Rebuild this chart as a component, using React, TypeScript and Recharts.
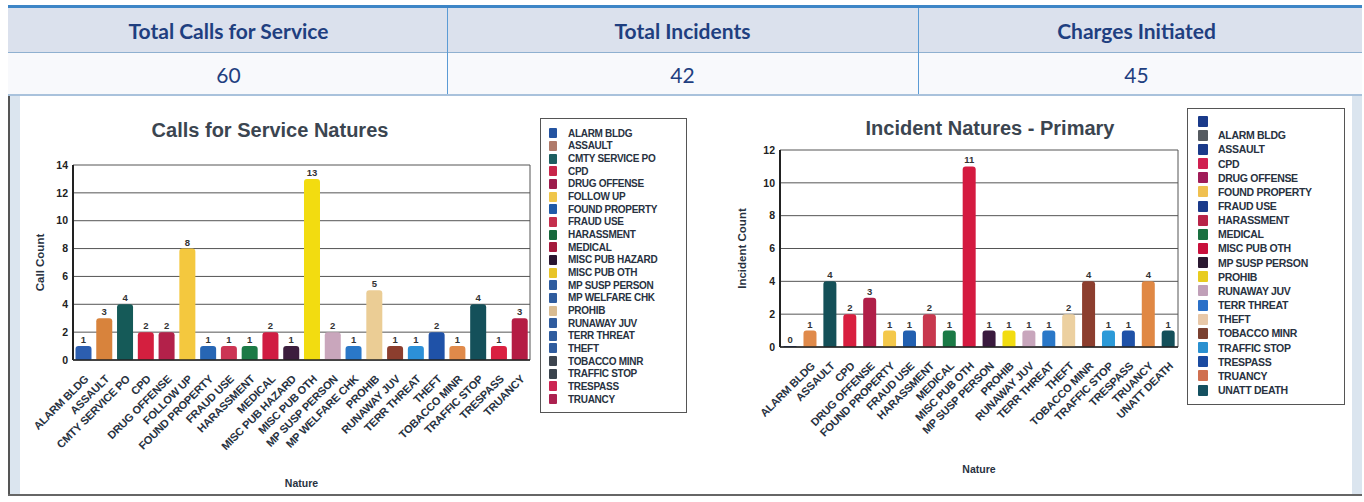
import React from "react";
import { BarChart, Bar, XAxis, YAxis, CartesianGrid, Cell, LabelList } from "recharts";

// header figures
const summaryTitles = ["Total Calls for Service", "Total Incidents", "Charges Initiated"];
const summaryValues = [60, 42, 45];

// Calls for Service Natures
const callNatures = [
  "ALARM BLDG", "ASSAULT", "CMTY SERVICE PO", "CPD", "DRUG OFFENSE", "FOLLOW UP",
  "FOUND PROPERTY", "FRAUD USE", "HARASSMENT", "MEDICAL", "MISC PUB HAZARD", "MISC PUB OTH",
  "MP SUSP PERSON", "MP WELFARE CHK", "PROHIB", "RUNAWAY JUV", "TERR THREAT", "THEFT",
  "TOBACCO MINR", "TRAFFIC STOP", "TRESPASS", "TRUANCY",
];
const callCounts = [1, 3, 4, 2, 2, 8, 1, 1, 1, 2, 1, 13, 2, 1, 5, 1, 1, 2, 1, 4, 1, 3];
const callBarColors = [
  "#2c5eb0", "#d8833c", "#155a58", "#d41f3f", "#b3214a", "#f4c83e",
  "#2766b4", "#cc3454", "#1b7a46", "#d01c42", "#3c1e3e", "#f2dc10",
  "#c9a6bc", "#2a78c8", "#ebcd95", "#8c3e2e", "#2c90d8", "#1f52a8",
  "#e08a4a", "#14505a", "#da2040", "#b41c44",
];
const callLegendColors = [
  "#2453a0", "#b07a6a", "#1d5e60", "#c8264a", "#9c1c4c", "#f0c64a",
  "#1f5aa8", "#c42e4c", "#17683c", "#a41a3c", "#2a1630", "#e8c428",
  "#2f5c9e", "#2f5c9e", "#d9bc92", "#2f5c9e", "#2f5c9e", "#2f5c9e",
  "#3d454f", "#3a434d", "#cc2452", "#ac2250",
];
const callTicks = [0, 2, 4, 6, 8, 10, 12, 14];

// Incident Natures - Primary
const incidentNatures = [
  "", "ALARM BLDG", "ASSAULT", "CPD", "DRUG OFFENSE", "FOUND PROPERTY", "FRAUD USE",
  "HARASSMENT", "MEDICAL", "MISC PUB OTH", "MP SUSP PERSON", "PROHIB", "RUNAWAY JUV",
  "TERR THREAT", "THEFT", "TOBACCO MINR", "TRAFFIC STOP", "TRESPASS", "TRUANCY", "UNATT DEATH",
];
const incidentCounts = [0, 1, 4, 2, 3, 1, 1, 2, 1, 11, 1, 1, 1, 1, 2, 4, 1, 1, 4, 1];
const incidentBarColors = [
  "#1f3f88", "#e08a4a", "#145058", "#d81f3f", "#b01f48", "#f4c84a", "#2260b0",
  "#c8384e", "#1b7a46", "#d41a40", "#3a1a3e", "#f2dc10", "#c8a6bc",
  "#2a78c8", "#ecd0a0", "#8c3e2e", "#2c9ad8", "#1f52a8", "#e08844", "#14505a",
];
const incidentLegendColors = [
  "#1a3a8a", "#555a60", "#1a3a8a", "#d02050", "#a01c58", "#f0c050", "#1a3a8a",
  "#b82448", "#1a7040", "#c8103c", "#2a1830", "#e8cc20", "#c0a0b8",
  "#2a70c8", "#e8c8a8", "#7a4030", "#2a90d0", "#1a4aa0", "#d07050", "#145060",
];
const incidentTicks = [0, 2, 4, 6, 8, 10, 12];

const FONT = "'Liberation Sans', Arial, sans-serif";
const TEXT = "#28323f";

const XTick = (props: any) => {
  const { x, y, payload } = props;
  return (
    <g transform={`translate(${x + 3},${y + 9}) rotate(-45)`}>
      <text x={0} y={0} dy="0.35em" textAnchor="end" fontSize={11} fontWeight="bold"
        fill={TEXT} fontFamily={FONT} letterSpacing={-0.2}>
        {payload.value}
      </text>
    </g>
  );
};

const edgeLines = ({ offset }: any) => [offset.left, offset.left + offset.width];

function NatureChart(props: {
  names: string[];
  counts: number[];
  colors: string[];
  ticks: number[];
  width: number;
  height: number;
  margin: any;
  yWidth: number;
  xHeight: number;
  yLabel: string;
  yLabelOffset: number;
  xLabelOffset: number;
  gap: string;
}) {
  const data = props.names.map((name, i) => ({ name, value: props.counts[i] }));
  const max = props.ticks[props.ticks.length - 1];
  return (
    <BarChart width={props.width} height={props.height} data={data} margin={props.margin}
      barCategoryGap={props.gap}>
      <CartesianGrid stroke="#555" verticalCoordinatesGenerator={edgeLines} />
      <XAxis dataKey="name" interval={0} tick={<XTick />} height={props.xHeight}
        axisLine={{ stroke: "#222", strokeWidth: 1.5 }} tickLine={false}
        label={{ value: "Nature", position: "insideBottom", offset: props.xLabelOffset,
          fontSize: 10.5, fontWeight: "bold", fill: TEXT, fontFamily: FONT }} />
      <YAxis domain={[0, max]} ticks={props.ticks} width={props.yWidth}
        axisLine={{ stroke: "#222", strokeWidth: 2 }} tickLine={false} tickSize={4} tickMargin={1}
        tick={{ fontSize: 10.5, fontWeight: "bold", fill: "#222", fontFamily: FONT }}
        label={{ value: props.yLabel, angle: -90, position: "insideLeft", offset: props.yLabelOffset,
          style: { textAnchor: "middle" }, fontSize: 11.5, fontWeight: "bold", fill: TEXT, fontFamily: FONT }} />
      <Bar dataKey="value" isAnimationActive={false} radius={[3, 3, 1, 1]} minPointSize={1}>
        {data.map((d, i) => (
          <Cell key={i} fill={props.colors[i]} />
        ))}
        <LabelList dataKey="value" position="top" offset={3} fontSize={9.5} fontWeight="bold"
          fill="#333" fontFamily={FONT} />
      </Bar>
    </BarChart>
  );
}

function LegendBox(props: {
  names: string[];
  colors: string[];
  style: React.CSSProperties;
  padTop: number;
  row: number;
  fontSize: number;
  swatch: [number, number];
  swatchLeft: number;
  textLeft: number;
}) {
  return (
    <div style={{ position: "absolute", border: "1px solid #555", background: "#fff",
      boxSizing: "border-box", paddingTop: props.padTop, ...props.style }}>
      {props.names.map((n, i) => (
        <div key={i} style={{ position: "relative", height: props.row, display: "flex", alignItems: "center" }}>
          <span style={{ position: "absolute", left: props.swatchLeft, width: props.swatch[0],
            height: props.swatch[1], background: props.colors[i], borderRadius: 1 }} />
          <span style={{ position: "absolute", left: props.textLeft, fontSize: props.fontSize,
            fontWeight: "bold", color: TEXT, fontFamily: FONT, letterSpacing: -0.3, whiteSpace: "nowrap" }}>
            {n}
          </span>
        </div>
      ))}
    </div>
  );
}

const colLeft = [10, 447, 918];
const colRight = [447, 918, 1355];

export default function App() {
  return (
    <div style={{ position: "absolute", left: 0, top: 0, width: 1364, height: 502, background: "#fff",
      overflow: "hidden", fontFamily: FONT }}>
      {/* header rows */}
      <div style={{ position: "absolute", left: 8, top: 5, width: 1354, height: 3, background: "#3d85c6" }} />
      <div style={{ position: "absolute", left: 8, top: 8, width: 1354, height: 44, background: "#dbe1ed" }} />
      <div style={{ position: "absolute", left: 8, top: 52, width: 1354, height: 1, background: "#8fb0d0" }} />
      <div style={{ position: "absolute", left: 8, top: 53, width: 1354, height: 41, background: "#f8f9fc" }} />
      <div style={{ position: "absolute", left: 8, top: 94, width: 1354, height: 2, background: "#a9c2dc" }} />
      {[447, 918].map((x) => (
        <div key={x} style={{ position: "absolute", left: x, top: 8, width: 1, height: 86, background: "#5b9bd5" }} />
      ))}
      {summaryTitles.map((t, i) => (
        <div key={t} style={{ position: "absolute", left: colLeft[i], width: colRight[i] - colLeft[i], top: 18,
          textAlign: "center", fontFamily: "Lato, sans-serif", fontWeight: "bold", fontSize: 21,
          color: "#1f3f80", lineHeight: "26px" }}>{t}</div>
      ))}
      {summaryValues.map((v, i) => (
        <div key={i} style={{ position: "absolute", left: colLeft[i], width: colRight[i] - colLeft[i], top: 62,
          textAlign: "center", fontFamily: "Lato, sans-serif", fontSize: 21, color: "#1f3f80",
          lineHeight: "26px" }}>{v}</div>
      ))}

      {/* chart area frame */}
      <div style={{ position: "absolute", left: 8, top: 96, width: 2, height: 400, background: "#555" }} />
      <div style={{ position: "absolute", left: 10, top: 96, width: 10, height: 398, background: "#dbe5ef" }} />
      <div style={{ position: "absolute", left: 1352, top: 96, width: 10, height: 398, background: "#dbe5ef" }} />
      <div style={{ position: "absolute", left: 8, top: 494, width: 1354, height: 2, background: "#666" }} />

      {/* left chart */}
      <div style={{ position: "absolute", left: 10, top: 118, width: 520, textAlign: "center", fontSize: 20,
        fontWeight: "bold", color: "#3b4550", lineHeight: "24px" }}>Calls for Service Natures</div>
      <div style={{ position: "absolute", left: 10, top: 95 }}>
        <NatureChart names={callNatures} counts={callCounts} colors={callBarColors} ticks={callTicks}
          width={535} height={400} margin={{ top: 70, right: 15, left: 0, bottom: 0 }}
          yWidth={63} xHeight={135} yLabel="Call Count" yLabelOffset={30} xLabelOffset={8} gap="12%" />
      </div>
      <LegendBox names={callNatures} colors={callLegendColors}
        style={{ left: 540, top: 118, width: 147, height: 295 }}
        padTop={8} row={12.67} fontSize={10} swatch={[8, 10]} swatchLeft={8} textLeft={27} />

      {/* right chart */}
      <div style={{ position: "absolute", left: 840, top: 116, width: 300, textAlign: "center", fontSize: 20,
        fontWeight: "bold", color: "#3b4550", lineHeight: "24px" }}>Incident Natures - Primary</div>
      <div style={{ position: "absolute", left: 700, top: 95 }}>
        <NatureChart names={incidentNatures} counts={incidentCounts} colors={incidentBarColors}
          ticks={incidentTicks} width={490} height={400} margin={{ top: 55, right: 12, left: 0, bottom: 0 }}
          yWidth={80} xHeight={148} yLabel="Incident Count" yLabelOffset={42} xLabelOffset={22} gap="18%" />
      </div>
      <LegendBox names={incidentNatures} colors={incidentLegendColors}
        style={{ left: 1187, top: 108, width: 158, height: 297 }}
        padTop={5} row={14.16} fontSize={10.5} swatch={[10, 11]} swatchLeft={10} textLeft={30} />
    </div>
  );
}
